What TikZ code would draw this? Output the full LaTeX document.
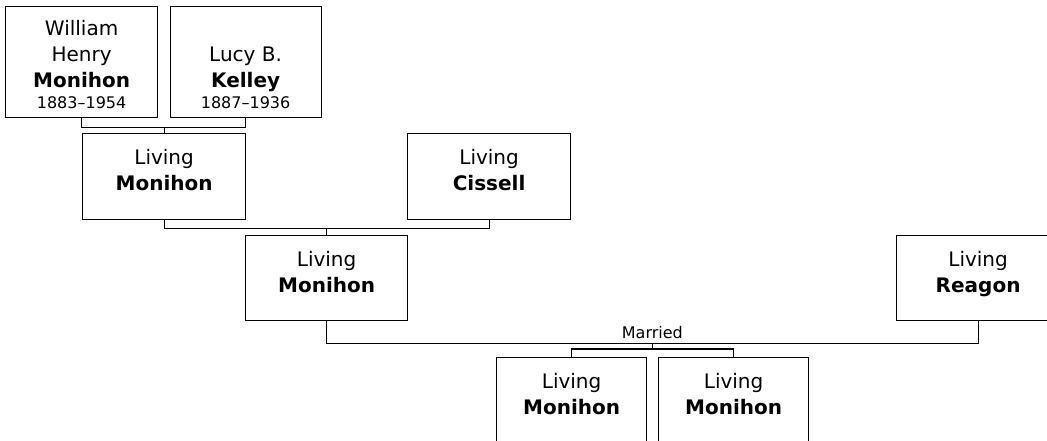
\documentclass[tikz,border=0pt]{standalone}
\usepackage{fontspec}
\setmainfont{DejaVu Sans}
\usetikzlibrary{positioning,calc}
\newcommand{\datesz}{\fontsize{16}{19}\selectfont}

\begin{document}
\begin{tikzpicture}[x=1pt, y=-1pt,
    person/.style 2 args={rectangle, draw, line width=1.2pt, anchor=north west, inner sep=0pt, minimum width=#1, minimum height=#2},
    who/.style={align=center, inner sep=0pt, anchor=north, font=\fontsize{20}{26}\selectfont},
    link/.style={line width=1.2pt}
]
    \useasboundingbox (0,0) rectangle (1047,440);
    \clip (0,0) rectangle (1047,440);

    % Grandparents
    \node[person={152pt}{111pt}] (wm) at (5,6) {};
    \node[person={151pt}{111pt}] (lk) at (169.5,6) {};
    \node[who, below=14pt of wm.north] (wmtxt) {William\\Henry\\\textbf{Monihon}\\[-5pt]{\datesz 1883--1954}};
    \node[who, below=41pt of lk.north] (lktxt) {Lucy B.\\\textbf{Kelley}\\[-5pt]{\datesz 1887--1936}};

    % Parents
    \node[person={163pt}{86pt}] (lm1) at (82,133) {};
    \node[person={163pt}{86pt}] (cs) at (407,133) {};
    \node[who, below=16pt of lm1.north] (lm1txt) {Living\\\textbf{Monihon}};
    \node[who, below=16pt of cs.north] (cstxt) {Living\\\textbf{Cissell}};

    % Couple
    \node[person={162pt}{85pt}] (lm2) at (245,235) {};
    \node[person={163pt}{85pt}] (rg) at (896,235) {};
    \node[who, below=16pt of lm2.north] (lm2txt) {Living\\\textbf{Monihon}};
    \node[who, below=16pt of rg.north] (rgtxt) {Living\\\textbf{Reagon}};

    % Children
    \node[person={150pt}{85pt}] (c1) at (496,357) {};
    \node[person={150pt}{85pt}] (c2) at (658,357) {};
    \node[who, below=16pt of c1.north] (c1txt) {Living\\\textbf{Monihon}};
    \node[who, below=16pt of c2.north] (c2txt) {Living\\\textbf{Monihon}};

    % Connectors
    \draw[link] (wm.south) -- ++(0,9) coordinate (j1) -| (lk.south);
    \draw[link] (lm1.north) -- (lm1.north |- j1);
    \draw[link] (lm1.south) -- ++(0,8) coordinate (j2) -| (cs.south);
    \draw[link] (lm2.north) -- (lm2.north |- j2);
    \draw[link] (lm2.south) -- ++(0,22) coordinate (wa) -- (wa -| rg.south) coordinate (wb) -- (rg.south);
    \coordinate (wed) at ($(wa)!0.5!(wb)$);
    \node[above=1pt of wed, font=\datesz] (wedtxt) {Married};
    \draw[link] (c1.north) -- ++(0,-8) coordinate (j3) -| (c2.north);
    \draw[link] (wed) -- (wed |- j3);

\end{tikzpicture}
\end{document}
